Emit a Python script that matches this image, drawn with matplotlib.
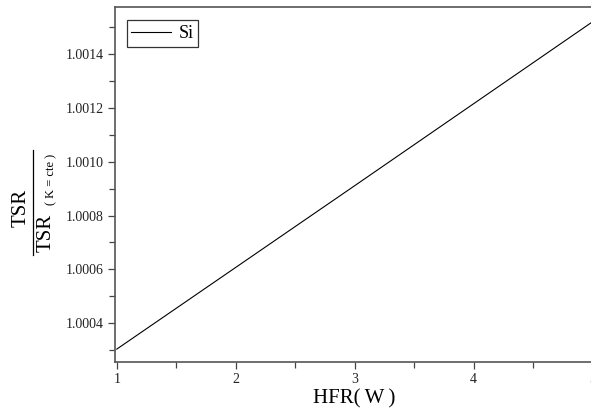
import matplotlib.pyplot as plt
import numpy as np
from matplotlib.ticker import MultipleLocator, FormatStrFormatter

plt.rcParams['font.family'] = ['Liberation Serif', 'DejaVu Serif']

# datos
hfr = [1, 2, 3, 4, 5]
tsr_ratio = [1.000303, 1.000607, 1.000911, 1.001216, 1.001521]
serie = "Si"

fig = plt.figure(figsize=(5.91, 4.11), dpi=100)
ax = fig.add_axes([0.1946, 0.1192, 0.808, 0.8638])

ax.plot(hfr, tsr_ratio, color='black', linewidth=0.8, label=serie)

ax.set_xlim(0.985, 5.0)
ax.set_ylim(1.000255, 1.001576)

ax.xaxis.set_major_locator(MultipleLocator(1))
ax.xaxis.set_minor_locator(MultipleLocator(0.5))
ax.yaxis.set_major_locator(MultipleLocator(0.0002))
ax.yaxis.set_minor_locator(MultipleLocator(0.0001))
ax.xaxis.set_major_formatter(FormatStrFormatter('%d'))
ax.yaxis.set_major_formatter(FormatStrFormatter('%.4f'))

ax.tick_params(which='major', direction='out', length=5, width=0.9,
               color='#444444', labelsize=10, labelcolor='#222222', pad=3)
ax.tick_params(which='minor', direction='out', length=4, width=0.9, color='#444444')
for s in ax.spines.values():
    s.set_color('#555555')
    s.set_linewidth(1.2)

ax.set_xlabel('HFR(\u2009W\u2009)', fontsize=15, labelpad=2)

# etiqueta Y en forma de fracción
fig.text(21.5 / 591, 1 - 208 / 411, 'TSR', rotation=90, fontsize=15,
         ha='center', va='center')
fig.text(46 / 591, 1 - 233 / 411, 'TSR', rotation=90, fontsize=15,
         ha='center', va='center')
fig.text(51 / 591, 1 - 179 / 411, '( K = cte )', rotation=90, fontsize=9,
         ha='center', va='center')
fig.add_artist(plt.Line2D([33 / 591, 33 / 591], [1 - 255 / 411, 1 - 150 / 411],
                          color='black', linewidth=0.9))

leg = ax.legend(loc='upper left', fontsize=13, frameon=True, fancybox=False,
                handlelength=2.2, handletextpad=0.4, borderpad=0.25,
                borderaxespad=0.0, bbox_to_anchor=(0.025, 0.962))
leg.get_frame().set_edgecolor('black')
leg.get_frame().set_linewidth(0.9)

fig.savefig('out.png', dpi=100)
